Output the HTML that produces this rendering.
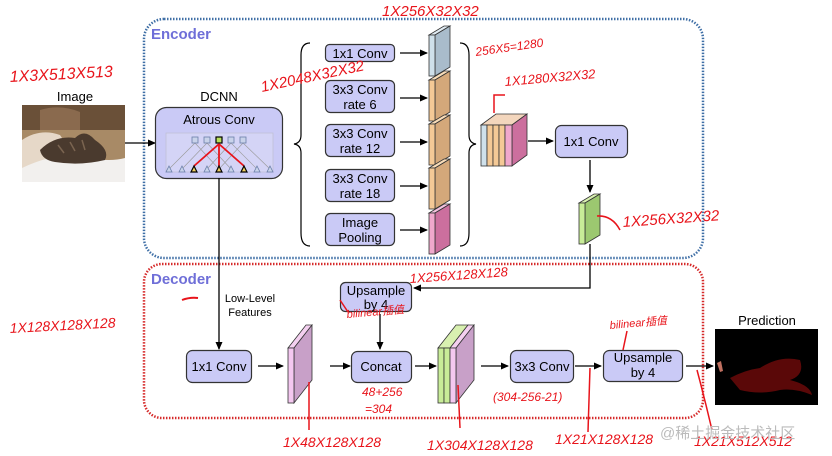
<!DOCTYPE html>
<html><head><meta charset="utf-8"><style>
html,body{margin:0;padding:0;background:#fff;}
svg{display:block;font-family:"Liberation Sans",sans-serif;}
.hw{fill:#e8141b;font-family:"Liberation Sans","Noto Sans CJK SC",sans-serif;font-style:italic;}
</style></head><body>
<svg width="832" height="456" viewBox="0 0 832 456" xmlns="http://www.w3.org/2000/svg">
<defs>
<marker id="a" markerWidth="8" markerHeight="8" refX="7" refY="4" orient="auto" markerUnits="userSpaceOnUse"><path d="M0,0.5 L8,4 L0,7.5z" fill="#000"/></marker>
</defs>
<rect x="144" y="19" width="559" height="239" rx="20" fill="none" stroke="#3f6fa6" stroke-width="2.5" stroke-dasharray="1.5 1.5"/>
<rect x="144" y="264" width="559" height="154" rx="18" fill="none" stroke="#d62a2a" stroke-width="2.5" stroke-dasharray="1.5 1.5"/>
<text x="151" y="39" font-size="15" font-weight="bold" fill="#6f6fd8">Encoder</text>
<text x="151" y="284" font-size="15" font-weight="bold" fill="#6f6fd8">Decoder</text>

<text x="75" y="101" font-size="13" text-anchor="middle">Image</text>
<rect x="22" y="105" width="103" height="77" fill="#a88a66"/>
<rect x="22" y="105" width="103" height="25" fill="#6a5038"/>
<path d="M40,110 Q60,104 80,112 L80,130 L40,130z" fill="#8a6a4e"/>
<path d="M22,140 Q40,128 60,135 L70,150 L22,170z" fill="#e6d8c8"/>
<path d="M22,168 Q60,150 90,158 Q110,162 125,158 L125,182 L22,182z" fill="#f2f0ee"/>
<path d="M40,150 Q55,135 75,138 Q85,128 95,140 Q110,150 105,160 Q80,166 55,162 Q42,160 40,150z" fill="#4a3a2e"/>
<path d="M58,145 l6,8 M70,142 l5,9 M82,140 l3,10" stroke="#7a6450" stroke-width="1.5"/>
<line x1="125" y1="143" x2="155" y2="143" stroke="#000" stroke-width="1.3" marker-end="url(#a)"/>

<text x="219" y="101" font-size="13" text-anchor="middle">DCNN</text>
<rect x="155.5" y="107.5" width="127" height="71" rx="11" fill="#cacaf6" stroke="#333" stroke-width="1.2"/>
<text x="219" y="124" font-size="13" text-anchor="middle">Atrous Conv</text>
<rect x="166" y="133" width="107" height="39" fill="#d4d4f6" stroke="#bbc" stroke-width="0.6"/>
<g stroke="#999" stroke-width="0.6">
<line x1="195" y1="143" x2="169" y2="169"/><line x1="195" y1="143" x2="219" y2="169"/>
<line x1="207" y1="143" x2="182" y2="169"/><line x1="207" y1="143" x2="231" y2="169"/>
<line x1="231" y1="143" x2="207" y2="169"/><line x1="231" y1="143" x2="257" y2="169"/>
<line x1="243" y1="143" x2="219" y2="169"/><line x1="243" y1="143" x2="270" y2="169"/>
</g>
<g fill="#c9d3ea" stroke="#6a7ea8" stroke-width="0.8">
<rect x="192" y="137" width="6" height="6"/><rect x="204" y="137" width="6" height="6"/><rect x="228" y="137" width="6" height="6"/><rect x="240" y="137" width="6" height="6"/>
</g>
<rect x="216" y="137" width="6" height="6" fill="#b8e05a" stroke="#000" stroke-width="1.2"/>
<g stroke="#e8141b" stroke-width="1.8"><line x1="219" y1="144" x2="194" y2="166"/><line x1="219" y1="144" x2="219" y2="166"/><line x1="219" y1="144" x2="244" y2="166"/></g>
<g fill="#c9d3ea" stroke="#6a7ea8" stroke-width="0.8">
<path d="M169,166 l3,6 h-6z"/><path d="M182,166 l3,6 h-6z"/><path d="M207,166 l3,6 h-6z"/><path d="M231,166 l3,6 h-6z"/><path d="M257,166 l3,6 h-6z"/><path d="M270,166 l3,6 h-6z"/>
</g>
<g fill="#f0d060" stroke="#000" stroke-width="1.2">
<path d="M194,166 l3,6 h-6z"/><path d="M219,166 l3,6 h-6z"/><path d="M244,166 l3,6 h-6z"/>
</g>

<path d="M310,43 Q301,43 301,55 L301,135 Q301,143 294,144 Q301,145 301,153 L301,233 Q301,246 310,246" fill="none" stroke="#000" stroke-width="1.2"/>
<path d="M460,43 Q469,43 469,55 L469,135 Q469,143 476,144 Q469,145 469,153 L469,233 Q469,246 460,246" fill="none" stroke="#000" stroke-width="1.2"/>

<g fill="#cacaf6" stroke="#333" stroke-width="1.2">
<rect x="325.5" y="44.5" width="69" height="17" rx="4"/>
<rect x="325.5" y="80.5" width="69" height="32" rx="5"/>
<rect x="325.5" y="124.5" width="69" height="32" rx="5"/>
<rect x="325.5" y="169.5" width="69" height="32" rx="5"/>
<rect x="325.5" y="213.5" width="69" height="32" rx="5"/>
</g>
<g font-size="13" text-anchor="middle">
<text x="360" y="58">1x1 Conv</text>
<text x="360" y="94">3x3 Conv</text><text x="360" y="109">rate 6</text>
<text x="360" y="138">3x3 Conv</text><text x="360" y="153">rate 12</text>
<text x="360" y="183">3x3 Conv</text><text x="360" y="198">rate 18</text>
<text x="360" y="227">Image</text><text x="360" y="242">Pooling</text>
</g>
<g stroke="#000" stroke-width="1.3">
<line x1="400" y1="53" x2="427" y2="53" marker-end="url(#a)"/>
<line x1="400" y1="98" x2="427" y2="98" marker-end="url(#a)"/>
<line x1="400" y1="142" x2="427" y2="142" marker-end="url(#a)"/>
<line x1="400" y1="186" x2="427" y2="186" marker-end="url(#a)"/>
<line x1="400" y1="230" x2="427" y2="230" marker-end="url(#a)"/>
</g>
<g stroke="#333" stroke-width="0.8">
<path d="M429,35 l6,0 l15,-9 l-6,0z" fill="#dfeaf2"/><path d="M435,35 l15,-9 v41 l-15,9z" fill="#a9bccb"/><rect x="429" y="35" width="6" height="41" fill="#cfe0ea"/>
<path d="M429,80 l6,0 l15,-9 l-6,0z" fill="#f8dcb8"/><path d="M435,80 l15,-9 v41 l-15,9z" fill="#d4a87a"/><rect x="429" y="80" width="6" height="41" fill="#f4c996"/>
<path d="M429,124 l6,0 l15,-9 l-6,0z" fill="#f8dcb8"/><path d="M435,124 l15,-9 v41 l-15,9z" fill="#d4a87a"/><rect x="429" y="124" width="6" height="41" fill="#f4c996"/>
<path d="M429,168 l6,0 l15,-9 l-6,0z" fill="#f8dcb8"/><path d="M435,168 l15,-9 v41 l-15,9z" fill="#d4a87a"/><rect x="429" y="168" width="6" height="41" fill="#f4c996"/>
<path d="M429,213 l6,0 l15,-9 l-6,0z" fill="#f4c2de"/><path d="M435,213 l15,-9 v41 l-15,9z" fill="#cc6f9e"/><rect x="429" y="213" width="6" height="41" fill="#f0a8cc"/>
</g>
<g stroke="#333" stroke-width="0.8">
<path d="M481,125 l15,-11 h31 l-15,11z" fill="#f3d6bd"/>
<path d="M512,125 l15,-11 v41 l-15,11z" fill="#cc6f9e"/>
<rect x="481" y="125" width="6" height="41" fill="#cfe0ea"/>
<rect x="487" y="125" width="6" height="41" fill="#f4c996"/>
<rect x="493" y="125" width="6" height="41" fill="#f4c996"/>
<rect x="499" y="125" width="6" height="41" fill="#f4c996"/>
<rect x="505" y="125" width="7" height="41" fill="#f0a8cc"/>
</g>
<line x1="528" y1="141" x2="553" y2="141" stroke="#000" stroke-width="1.3" marker-end="url(#a)"/>
<rect x="555.5" y="125.5" width="72" height="32" rx="6" fill="#cacaf6" stroke="#333" stroke-width="1.2"/>
<text x="591" y="146" font-size="13" text-anchor="middle">1x1 Conv</text>
<line x1="590" y1="160" x2="590" y2="192" stroke="#000" stroke-width="1.3" marker-end="url(#a)"/>
<g stroke="#333" stroke-width="0.8">
<path d="M579,203 l6,0 l15,-9 l-6,0z" fill="#d8f0b0"/><path d="M585,203 l15,-9 v41 l-15,9z" fill="#9cc870"/><rect x="579" y="203" width="6" height="41" fill="#c8ec98"/>
</g>
<path d="M590,244 V288 H414" fill="none" stroke="#000" stroke-width="1.3" marker-end="url(#a)"/>

<line x1="219" y1="178" x2="219" y2="349" stroke="#000" stroke-width="1.3" marker-end="url(#a)"/>
<text x="250" y="302" font-size="11" text-anchor="middle">Low-Level</text>
<text x="250" y="316" font-size="11" text-anchor="middle">Features</text>
<rect x="340.5" y="282.5" width="71" height="29" rx="5" fill="#cacaf6" stroke="#333" stroke-width="1.2"/>
<text x="376" y="295" font-size="13" text-anchor="middle">Upsample</text>
<text x="376" y="309" font-size="13" text-anchor="middle">by 4</text>
<line x1="380" y1="314" x2="380" y2="349" stroke="#000" stroke-width="1.3" marker-end="url(#a)"/>

<rect x="186.5" y="350.5" width="65" height="32" rx="6" fill="#cacaf6" stroke="#333" stroke-width="1.2"/>
<text x="219" y="371" font-size="13" text-anchor="middle">1x1 Conv</text>
<line x1="258" y1="366" x2="283" y2="366" stroke="#000" stroke-width="1.3" marker-end="url(#a)"/>
<g stroke="#333" stroke-width="0.8">
<path d="M288,348 l6,0 l18,-23 h-6z" fill="#f4d0f0"/><path d="M294,348 l18,-23 v55 l-18,23z" fill="#c8a0c8"/><rect x="288" y="348" width="6" height="55" fill="#f4c8f0"/>
</g>
<line x1="330" y1="366" x2="350" y2="366" stroke="#000" stroke-width="1.3" marker-end="url(#a)"/>
<rect x="351.5" y="351.5" width="60" height="31" rx="6" fill="#cacaf6" stroke="#333" stroke-width="1.2"/>
<text x="381" y="371" font-size="13" text-anchor="middle">Concat</text>
<line x1="415" y1="366" x2="436" y2="366" stroke="#000" stroke-width="1.3" marker-end="url(#a)"/>
<g stroke="#333" stroke-width="0.8">
<path d="M438,348 l12,0 l18,-23 h-12z" fill="#d8f0b0"/><path d="M450,348 l18,-23 h6 l-18,23z" fill="#f4d0f0"/>
<path d="M456,348 l18,-23 v55 l-18,23z" fill="#c8a0c8"/>
<rect x="438" y="348" width="6" height="55" fill="#c8ec98"/><rect x="444" y="348" width="6" height="55" fill="#c8ec98"/><rect x="450" y="348" width="6" height="55" fill="#f4c8f0"/>
</g>
<line x1="481" y1="366" x2="508" y2="366" stroke="#000" stroke-width="1.3" marker-end="url(#a)"/>
<rect x="510.5" y="350.5" width="63" height="32" rx="6" fill="#cacaf6" stroke="#333" stroke-width="1.2"/>
<text x="542" y="371" font-size="13" text-anchor="middle">3x3 Conv</text>
<line x1="575" y1="366" x2="601" y2="366" stroke="#000" stroke-width="1.3" marker-end="url(#a)"/>
<rect x="603.5" y="350.5" width="79" height="31" rx="6" fill="#cacaf6" stroke="#333" stroke-width="1.2"/>
<text x="643" y="362" font-size="13" text-anchor="middle">Upsample</text>
<text x="643" y="377" font-size="13" text-anchor="middle">by 4</text>
<line x1="686" y1="366" x2="713" y2="366" stroke="#000" stroke-width="1.3" marker-end="url(#a)"/>

<text x="767" y="325" font-size="13" text-anchor="middle">Prediction</text>
<rect x="715" y="329" width="103" height="76" fill="#000"/>
<path d="M730,378 Q745,370 760,368 Q780,355 800,360 Q805,375 790,380 Q810,385 812,395 Q795,388 780,390 Q760,395 740,390z" fill="#5a0808"/>
<path d="M717,363 l4,-2 l2,10 l-3,1z" fill="#c07060"/>

<g class="hw">
<text x="10" y="82" font-size="16" transform="rotate(-3 10 82)">1X3X513X513</text>
<text x="262" y="92" font-size="15" transform="rotate(-12 262 92)">1X2048X32X32</text>
<text x="382" y="16" font-size="15">1X256X32X32</text>
<text x="476" y="56" font-size="12" transform="rotate(-8 476 56)">256X5=1280</text>
<text x="505" y="86" font-size="13" transform="rotate(-5 505 86)">1X1280X32X32</text>
<path d="M494,113 V95 H505" fill="none" stroke="#e8141b" stroke-width="1.5"/>
<text x="623" y="227" font-size="15" transform="rotate(-4 623 227)">1X256X32X32</text>
<path d="M597,216 Q612,215 620,230" fill="none" stroke="#e8141b" stroke-width="1.5"/>
<text x="410" y="283" font-size="13" transform="rotate(-4 410 283)">1X256X128X128</text>
<text x="347" y="318" font-size="11" transform="rotate(-5 347 318)">bilinear插值</text>
<path d="M340,300 L348,312" stroke="#e8141b" stroke-width="1.5"/>
<text x="10" y="333" font-size="14" transform="rotate(-3 10 333)">1X128X128X128</text>
<path d="M182,300 Q190,297 198,298" fill="none" stroke="#e8141b" stroke-width="2"/>
<text x="362" y="396" font-size="12">48+256</text>
<text x="365" y="413" font-size="12">=304</text>
<text x="610" y="329" font-size="11" transform="rotate(-5 610 329)">bilinear插值</text>
<path d="M627,331 L623,350" stroke="#e8141b" stroke-width="1.5"/>
<text x="493" y="401" font-size="12">(304-256-21)</text>
<line x1="309" y1="382" x2="309" y2="430" stroke="#e8141b" stroke-width="1.5"/>
<text x="283" y="447" font-size="14">1X48X128X128</text>
<line x1="458" y1="385" x2="460" y2="428" stroke="#e8141b" stroke-width="1.5"/>
<text x="427" y="450" font-size="14">1X304X128X128</text>
<line x1="590" y1="368" x2="588" y2="432" stroke="#e8141b" stroke-width="1.5"/>
<text x="555" y="444" font-size="14">1X21X128X128</text>
<path d="M697,370 Q705,400 712,430" fill="none" stroke="#e8141b" stroke-width="1.5"/>
<text x="694" y="446" font-size="14">1X21X512X512</text>
</g>
<text x="660" y="438" font-size="15" fill="#bbb" font-family="Liberation Sans,Noto Sans CJK SC,sans-serif">@稀土掘金技术社区</text>
</svg>
</body></html>
